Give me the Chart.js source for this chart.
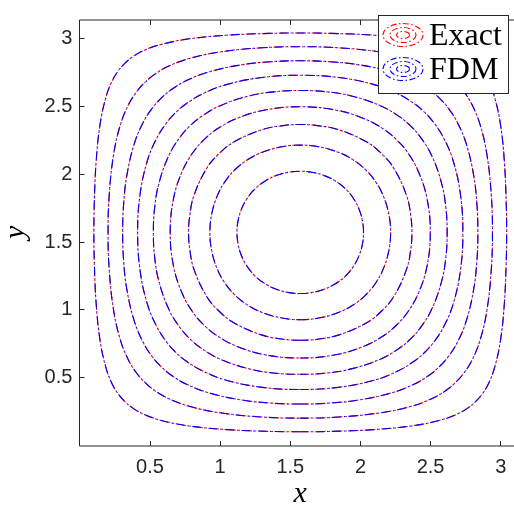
<!DOCTYPE html>
<html>
<head>
<meta charset="utf-8">
<script src="https://cdn.jsdelivr.net/npm/chart.js@4.4.1/dist/chart.umd.min.js"></script>
<style>
  html, body { margin: 0; padding: 0; background: #ffffff; overflow: hidden; }
  canvas { display: block; }
</style>
</head>
<body>
<canvas id="chart" width="530" height="515" style="width:530px;height:515px"></canvas>
<script>
// Axis ticks
const xTicks = [0.5, 1, 1.5, 2, 2.5, 3];
const xTickLabels = ['0.5', '1', '1.5', '2', '2.5', '3'];
const yTicks = [0.5, 1, 1.5, 2, 2.5, 3];
const yTickLabels = ['0.5', '1', '1.5', '2', '2.5', '3'];

// Series shown in the legend
const seriesNames = ['Exact', 'FDM'];

// Closed level curves of the solution, outermost (u = 0.1) to innermost (u = 0.9),
// each traced once round as [x, y] points; the line is closed back to its first point.
const loop01 = [
  [1.571,0.100],[1.792,0.103],[2.092,0.116],[2.362,0.143],[2.562,0.184],[2.682,0.227],[2.762,0.273],[2.820,0.322],
  [2.869,0.380],[2.915,0.460],[2.958,0.580],[2.999,0.780],[3.026,1.050],[3.039,1.350],[3.042,1.571],
  [3.039,1.792],[3.026,2.092],[2.999,2.362],[2.958,2.562],[2.915,2.682],[2.869,2.762],[2.820,2.820],
  [2.762,2.869],[2.682,2.915],[2.562,2.958],[2.362,2.999],[2.092,3.026],[1.792,3.039],[1.571,3.042],
  [1.350,3.039],[1.050,3.026],[0.780,2.999],[0.580,2.958],[0.460,2.915],[0.380,2.869],[0.322,2.820],
  [0.273,2.762],[0.227,2.682],[0.184,2.562],[0.143,2.362],[0.116,2.092],[0.103,1.792],[0.100,1.571],
  [0.103,1.350],[0.116,1.050],[0.143,0.780],[0.184,0.580],[0.227,0.460],[0.273,0.380],[0.322,0.322],
  [0.380,0.273],[0.460,0.227],[0.580,0.184],[0.780,0.143],[1.050,0.116],[1.350,0.103]
];
const loop02 = [
  [1.571,0.201],[1.842,0.209],[2.142,0.240],[2.362,0.288],[2.512,0.346],[2.612,0.407],[2.678,0.464],
  [2.735,0.530],[2.796,0.630],[2.854,0.780],[2.902,1.000],[2.933,1.300],[2.941,1.571],
  [2.933,1.842],[2.902,2.142],[2.854,2.362],[2.796,2.512],[2.735,2.612],[2.678,2.678],
  [2.612,2.735],[2.512,2.796],[2.362,2.854],[2.142,2.902],[1.842,2.933],[1.571,2.941],
  [1.300,2.933],[1.000,2.902],[0.780,2.854],[0.630,2.796],[0.530,2.735],[0.464,2.678],
  [0.407,2.612],[0.346,2.512],[0.288,2.362],[0.240,2.142],[0.209,1.842],[0.201,1.571],
  [0.209,1.300],[0.240,1.000],[0.288,0.780],[0.346,0.630],[0.407,0.530],[0.464,0.464],
  [0.530,0.407],[0.630,0.346],[0.780,0.288],[1.000,0.240],[1.300,0.209]
];
const loop03 = [
  [1.571,0.305],[1.782,0.312],[1.992,0.335],[2.222,0.387],[2.382,0.451],[2.492,0.519],[2.562,0.580],
  [2.623,0.650],[2.691,0.760],[2.755,0.920],[2.807,1.150],[2.830,1.360],[2.837,1.571],
  [2.830,1.782],[2.807,1.992],[2.755,2.222],[2.691,2.382],[2.623,2.492],[2.562,2.562],
  [2.492,2.623],[2.382,2.691],[2.222,2.755],[1.992,2.807],[1.782,2.830],[1.571,2.837],
  [1.360,2.830],[1.150,2.807],[0.920,2.755],[0.760,2.691],[0.650,2.623],[0.580,2.562],
  [0.519,2.492],[0.451,2.382],[0.387,2.222],[0.335,1.992],[0.312,1.782],[0.305,1.571],
  [0.312,1.360],[0.335,1.150],[0.387,0.920],[0.451,0.760],[0.519,0.650],[0.580,0.580],
  [0.650,0.519],[0.760,0.451],[0.920,0.387],[1.150,0.335],[1.360,0.312]
];
const loop04 = [
  [1.571,0.412],[1.842,0.428],[2.092,0.479],[2.262,0.546],[2.382,0.620],[2.457,0.685],
  [2.522,0.760],[2.596,0.880],[2.663,1.050],[2.714,1.300],[2.730,1.571],
  [2.714,1.842],[2.663,2.092],[2.596,2.262],[2.522,2.382],[2.457,2.457],
  [2.382,2.522],[2.262,2.596],[2.092,2.663],[1.842,2.714],[1.571,2.730],
  [1.300,2.714],[1.050,2.663],[0.880,2.596],[0.760,2.522],[0.685,2.457],
  [0.620,2.382],[0.546,2.262],[0.479,2.092],[0.428,1.842],[0.412,1.571],
  [0.428,1.300],[0.479,1.050],[0.546,0.880],[0.620,0.760],[0.685,0.685],
  [0.760,0.620],[0.880,0.546],[1.050,0.479],[1.300,0.428]
];
const loop05 = [
  [1.571,0.524],[1.762,0.534],[1.942,0.566],[2.142,0.636],[2.272,0.713],[2.357,0.785],
  [2.429,0.870],[2.506,1.000],[2.576,1.200],[2.608,1.380],[2.618,1.571],
  [2.608,1.762],[2.576,1.942],[2.506,2.142],[2.429,2.272],[2.357,2.357],
  [2.272,2.429],[2.142,2.506],[1.942,2.576],[1.762,2.608],[1.571,2.618],
  [1.380,2.608],[1.200,2.576],[1.000,2.506],[0.870,2.429],[0.785,2.357],
  [0.713,2.272],[0.636,2.142],[0.566,1.942],[0.534,1.762],[0.524,1.571],
  [0.534,1.380],[0.566,1.200],[0.636,1.000],[0.713,0.870],[0.785,0.785],
  [0.870,0.713],[1.000,0.636],[1.200,0.566],[1.380,0.534]
];
const loop06 = [
  [1.571,0.644],[1.822,0.668],[2.022,0.730],[2.162,0.807],[2.256,0.886],
  [2.335,0.980],[2.412,1.120],[2.474,1.320],[2.498,1.571],
  [2.474,1.822],[2.412,2.022],[2.335,2.162],[2.256,2.256],
  [2.162,2.335],[2.022,2.412],[1.822,2.474],[1.571,2.498],
  [1.320,2.474],[1.120,2.412],[0.980,2.335],[0.886,2.256],
  [0.807,2.162],[0.730,2.022],[0.668,1.822],[0.644,1.571],
  [0.668,1.320],[0.730,1.120],[0.807,0.980],[0.886,0.886],
  [0.980,0.807],[1.120,0.730],[1.320,0.668]
];
const loop07 = [
  [1.571,0.775],[1.692,0.783],[1.842,0.813],[2.042,0.903],[2.151,0.991],
  [2.239,1.100],[2.329,1.300],[2.359,1.450],[2.367,1.571],
  [2.359,1.692],[2.329,1.842],[2.239,2.042],[2.151,2.151],
  [2.042,2.239],[1.842,2.329],[1.692,2.359],[1.571,2.367],
  [1.450,2.359],[1.300,2.329],[1.100,2.239],[0.991,2.151],
  [0.903,2.042],[0.813,1.842],[0.783,1.692],[0.775,1.571],
  [0.783,1.450],[0.813,1.300],[0.903,1.100],[0.991,0.991],
  [1.100,0.903],[1.300,0.813],[1.450,0.783]
];
const loop08 = [
  [1.571,0.927],[1.712,0.941],[1.842,0.980],[1.942,1.032],[2.035,1.107],
  [2.110,1.200],[2.162,1.300],[2.201,1.430],[2.215,1.571],
  [2.201,1.712],[2.162,1.842],[2.110,1.942],[2.035,2.035],
  [1.942,2.110],[1.842,2.162],[1.712,2.201],[1.571,2.215],
  [1.430,2.201],[1.300,2.162],[1.200,2.110],[1.107,2.035],
  [1.032,1.942],[0.980,1.842],[0.941,1.712],[0.927,1.571],
  [0.941,1.430],[0.980,1.300],[1.032,1.200],[1.107,1.107],
  [1.200,1.032],[1.300,0.980],[1.430,0.941]
];
const loop09 = [
  [1.571,1.120],[1.652,1.127],[1.732,1.148],[1.812,1.186],[1.893,1.249],
  [1.956,1.330],[1.994,1.410],[2.015,1.490],[2.022,1.571],
  [2.015,1.652],[1.994,1.732],[1.956,1.812],[1.893,1.893],
  [1.812,1.956],[1.732,1.994],[1.652,2.015],[1.571,2.022],
  [1.490,2.015],[1.410,1.994],[1.330,1.956],[1.249,1.893],
  [1.186,1.812],[1.148,1.732],[1.127,1.652],[1.120,1.571],
  [1.127,1.490],[1.148,1.410],[1.186,1.330],[1.249,1.249],
  [1.330,1.186],[1.410,1.148],[1.490,1.127]
];

// The finite-difference curves lie on top of the exact ones at this scale,
// so both series are traced through the same points.
const exactLoops = [loop01, loop02, loop03, loop04, loop05, loop06, loop07, loop08, loop09];
const fdmLoops   = [loop01, loop02, loop03, loop04, loop05, loop06, loop07, loop08, loop09];

const seriesColors = ['#ff0000', '#0000ff'];
const dashDot = [9, 3, 1.5, 3];

const datasets = [];
exactLoops.forEach((pts) => {
  datasets.push({
    label: seriesNames[0], data: pts,
    borderColor: seriesColors[0], borderWidth: 1.1,
    borderDash: dashDot, borderDashOffset: 0, order: 1
  });
});
fdmLoops.forEach((pts) => {
  datasets.push({
    label: seriesNames[1], data: pts,
    borderColor: seriesColors[1], borderWidth: 1.1,
    borderDash: dashDot, borderDashOffset: 1.5, order: 0
  });
});

// Each level curve is a closed loop: join the last point smoothly back to the first
const closedCurves = {
  id: 'closedCurves',
  afterDatasetsUpdate(chart) {
    chart.getSortedVisibleDatasetMetas().forEach((meta) => {
      if (meta.dataset) {
        meta.dataset._loop = true;
        meta.dataset._fullLoop = true;
      }
    });
  },
  beforeDatasetsDraw(chart) {
    chart.getSortedVisibleDatasetMetas().forEach((meta) => {
      if (meta.dataset) meta.dataset.updateControlPoints(chart.chartArea, 'x');
    });
  }
};

// Axes box with inward tick marks, and the boxed legend in the top-right corner
const frameAndLegend = {
  id: 'frameAndLegend',
  afterDatasetsDraw(chart) {
    const { ctx, chartArea: a, scales } = chart;
    const left = Math.floor(a.left) + 0.5;
    const top = Math.ceil(a.top);
    const bottom = Math.ceil(a.bottom);
    const right = a.right;
    const tickLen = 5;

    ctx.save();
    ctx.setLineDash([]);
    ctx.strokeStyle = '#262626';
    ctx.lineWidth = 1;
    ctx.beginPath();
    ctx.moveTo(left, top); ctx.lineTo(right, top);
    ctx.moveTo(left, bottom); ctx.lineTo(right, bottom);
    ctx.moveTo(left, top); ctx.lineTo(left, bottom);
    ctx.moveTo(right, top); ctx.lineTo(right, bottom);
    xTicks.forEach((v) => {
      const px = Math.floor(scales.x.getPixelForValue(v)) + 0.5;
      ctx.moveTo(px, bottom); ctx.lineTo(px, bottom - tickLen);
      ctx.moveTo(px, top); ctx.lineTo(px, top + tickLen);
    });
    yTicks.forEach((v) => {
      const py = Math.floor(scales.y.getPixelForValue(v)) + 0.5;
      ctx.moveTo(left, py); ctx.lineTo(left + tickLen, py);
      ctx.moveTo(right, py); ctx.lineTo(right - tickLen, py);
    });
    ctx.stroke();

    // legend
    ctx.fillStyle = '#ffffff';
    ctx.fillRect(378, 15, 131, 79);
    ctx.strokeStyle = '#262626';
    ctx.strokeRect(378.5, 15.5, 130, 78);
    const rings = [[20, 11.5], [13, 7.5], [6.5, 3.5]];
    seriesNames.forEach((name, i) => {
      const cy = 35 + i * 34;
      ctx.strokeStyle = seriesColors[i];
      ctx.lineWidth = 1.1;
      ctx.setLineDash([6, 2.5, 1.5, 2.5]);
      rings.forEach(([rx, ry]) => {
        ctx.beginPath();
        ctx.ellipse(403, cy, rx, ry, 0, 0, Math.PI * 2);
        ctx.stroke();
      });
      ctx.setLineDash([]);
      ctx.fillStyle = '#000000';
      ctx.font = '32px "Liberation Serif", "Times New Roman", serif';
      ctx.textAlign = 'left';
      ctx.textBaseline = 'alphabetic';
      ctx.fillText(name, 429, cy + 9.5);
    });
    ctx.restore();
  }
};

const tickFont = { family: '"Liberation Sans", Arial, Helvetica, sans-serif', size: 20 };
const titleFont = { family: '"Liberation Serif", "Times New Roman", serif', style: 'italic', size: 30, lineHeight: 0.87 };

new Chart(document.getElementById('chart'), {
  type: 'line',
  data: { datasets },
  options: {
    responsive: false,
    animation: false,
    devicePixelRatio: 1,
    spanGaps: false,
    layout: { padding: { top: 4.45, right: 9.4, left: 0, bottom: 0 } },
    elements: {
      point: { radius: 0, hoverRadius: 0 },
      line: { tension: 0.4, fill: false }
    },
    plugins: { legend: { display: false }, tooltip: { enabled: false } },
    scales: {
      x: {
        type: 'linear', position: 'bottom', min: 0, max: Math.PI,
        grid: { display: false, drawTicks: false }, border: { display: false },
        afterBuildTicks: (s) => { s.ticks = xTicks.map((v) => ({ value: v })); },
        afterFit: (s) => { s.height = 69.65; },
        ticks: {
          color: '#262626', font: tickFont, padding: 10,
          maxRotation: 0, autoSkip: false,
          callback: (v, i) => xTickLabels[i]
        },
        title: { display: true, text: 'x', color: '#000000', font: titleFont, padding: { top: 0, bottom: 7.6 } }
      },
      y: {
        type: 'linear', position: 'left', min: 0, max: Math.PI,
        grid: { display: false, drawTicks: false }, border: { display: false },
        afterBuildTicks: (s) => { s.ticks = yTicks.map((v) => ({ value: v })); },
        afterFit: (s) => { s.width = 79.86; },
        ticks: {
          color: '#262626', font: tickFont, padding: 7.5, autoSkip: false,
          callback: (v, i) => yTickLabels[i]
        },
        title: { display: true, text: 'y', color: '#000000', font: titleFont, padding: { top: 3.5, bottom: 0 } }
      }
    }
  },
  plugins: [closedCurves, frameAndLegend]
});
</script>
</body>
</html>
